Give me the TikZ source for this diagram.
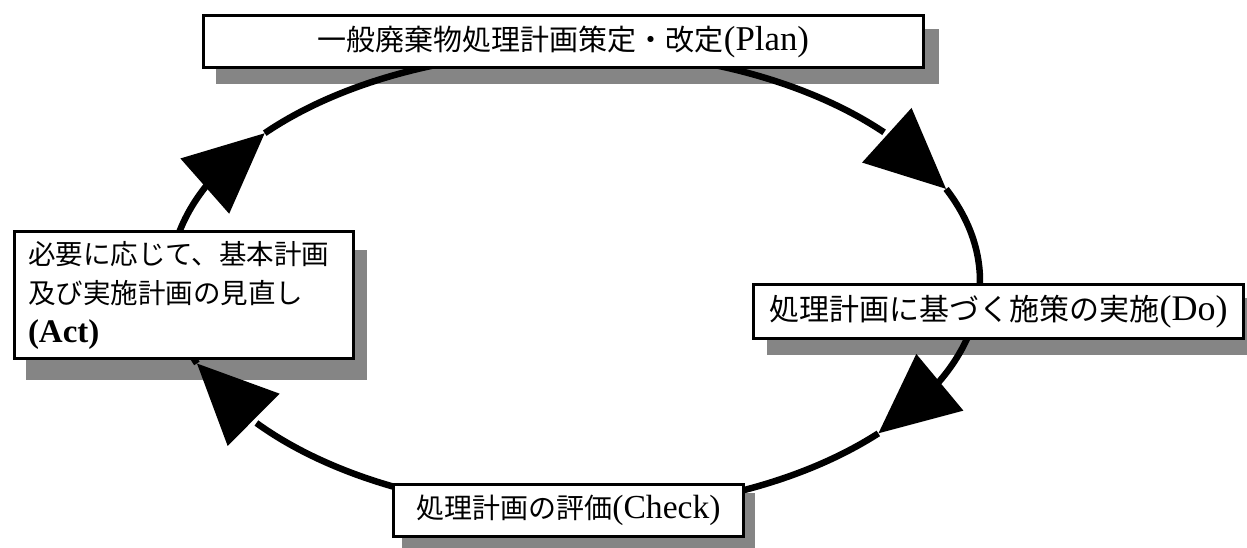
\documentclass[tikz,border=0pt]{standalone}
\usepackage{fontspec}
\setmainfont{Liberation Serif}
\newfontfamily\jpfont{Noto Sans CJK JP}
\newfontfamily\latfont{Liberation Serif}[Scale=1.2]
\usetikzlibrary{arrows.meta,bending,calc}
\newcommand\jl[1]{{\latfont #1}}
\pgfdeclarelayer{bg}
\pgfsetlayers{bg,main}
\begin{document}
\begin{tikzpicture}[x=1pt,y=-1pt,
  box/.style={draw=black, line width=3pt, fill=white, inner sep=0pt, anchor=north west},
  shadowfill/.style={fill=black!48},
  cyc/.style={line width=6.5pt, -{Triangle[length=80pt,width=72pt,flex]}},
  rad/.style={x radius=405, y radius=230}
]
\useasboundingbox (0,0) rectangle (1247,548);

\node[box, minimum width=720pt, minimum height=52pt,
      font=\jpfont\fontsize{29pt}{34pt}\selectfont] (plan) at (202,14)
  {一般廃棄物処理計画策定・改定\jl{(Plan)}};
\node[box, minimum width=490pt, minimum height=54pt,
      font=\jpfont\fontsize{30pt}{36pt}\selectfont] (do) at (752,283)
  {処理計画に基づく施策の実施\jl{(Do)}};
\node[box, minimum width=350pt, minimum height=52pt,
      font=\jpfont\fontsize{28pt}{33pt}\selectfont] (check) at (392,483)
  {処理計画の評価\jl{(Check)}};
\node[box, minimum height=127pt, text width=312pt, inner xsep=13.5pt, align=left,
      font=\jpfont\fontsize{27.5pt}{39pt}\selectfont] (act) at (13,230)
  {必要に応じて、基本計画\\及び実施計画の見直し\\\jl{\bfseries (Act)}};

\coordinate (c) at (575,281);
\coordinate (t1) at ($(c)+(336.4:405 and 230)$);
\coordinate (t2) at ($(c)+(41.5:405 and 230)$);
\coordinate (t3) at ($(c)+(159:405 and 230)$);
\coordinate (t4) at ($(c)+(220:405 and 230)$);

\begin{pgfonlayer}{bg}
  \fill[white] (0,0) rectangle (1247,548);
  \fill[shadowfill] ($(plan.north west)+(14,15)$) rectangle ($(plan.south east)+(14,15)$);
  \fill[shadowfill] ($(do.north west)+(15,15)$) rectangle ($(do.south east)+(15,15)$);
  \fill[shadowfill] ($(act.north west)+(13,20)$) rectangle ($(act.south east)+(12,20)$);
  \fill[shadowfill] ($(check.north west)+(10,10)$) rectangle ($(check.south east)+(10,10)$);
  \draw[cyc] (t4) arc[start angle=220, end angle=336.4, rad];
  \draw[cyc] (t1) arc[start angle=336.4, end angle=401.5, rad];
  \draw[cyc] (t2) arc[start angle=41.5, end angle=159, rad];
  \draw[cyc] (t3) arc[start angle=159, end angle=220, rad];
\end{pgfonlayer}
\end{tikzpicture}
\end{document}
